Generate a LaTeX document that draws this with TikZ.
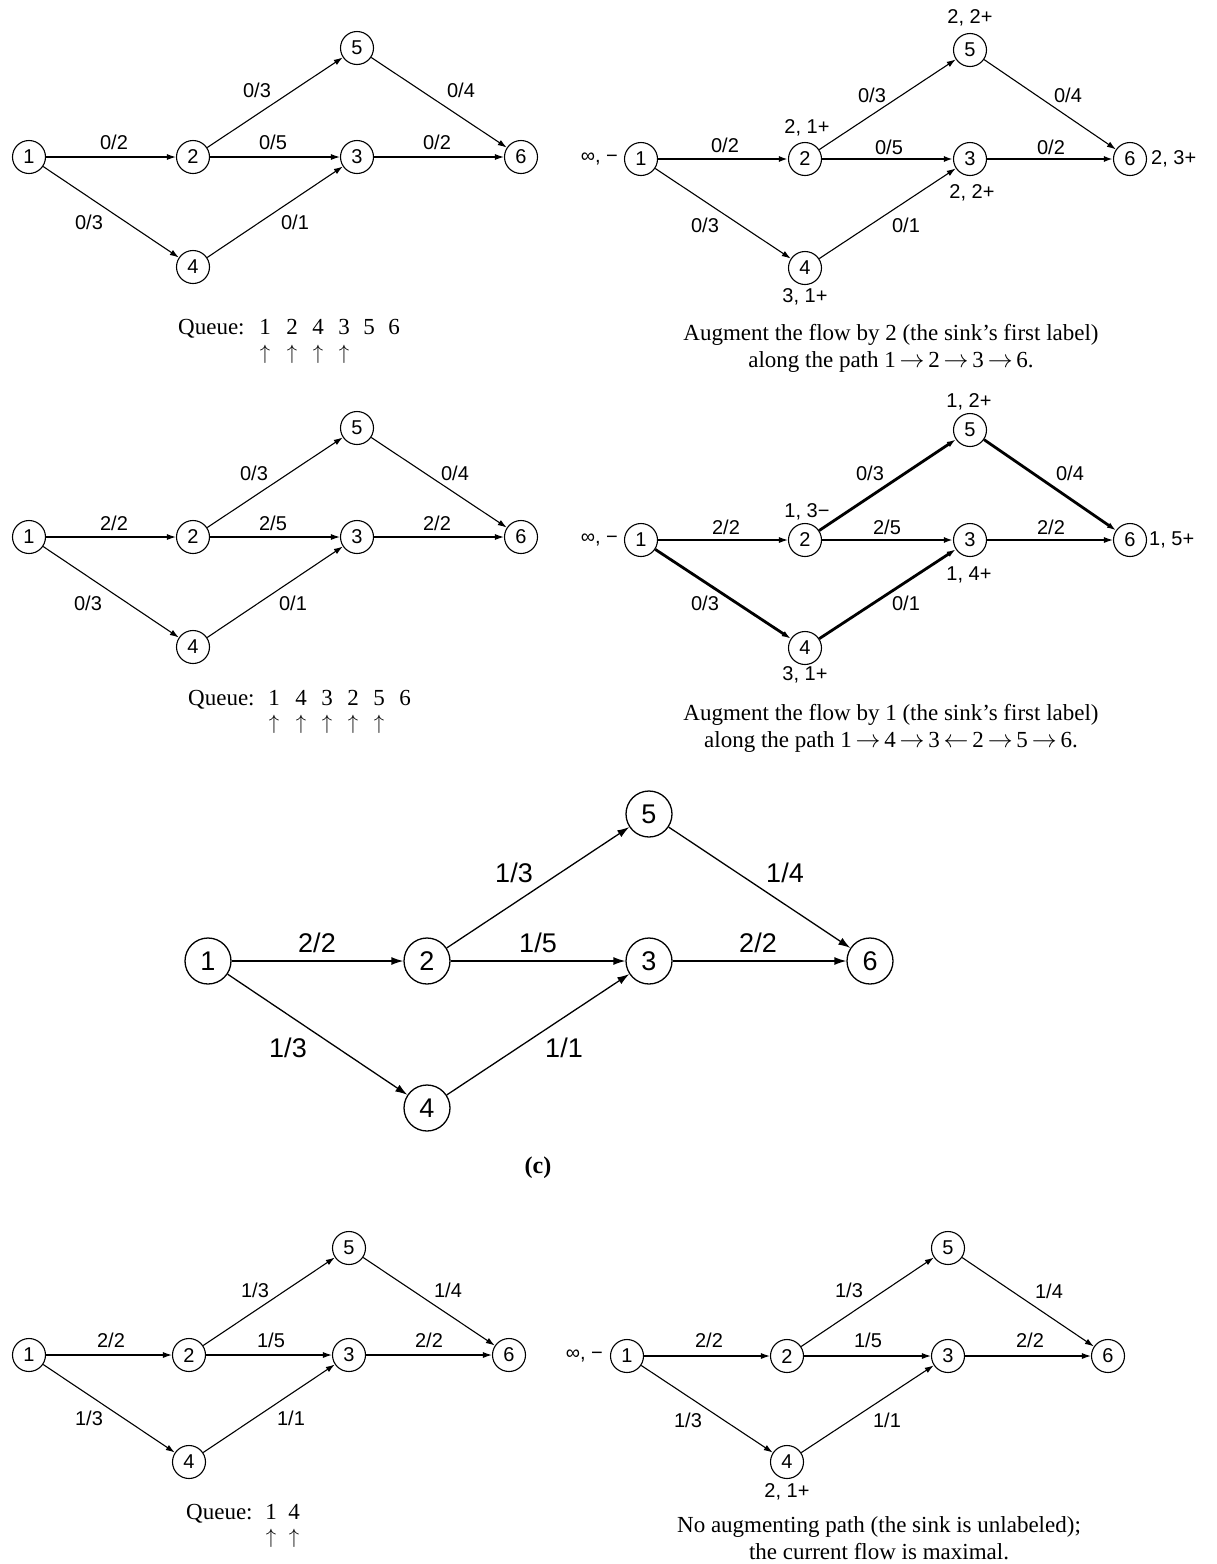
\documentclass[tikz,border=0pt]{standalone}
\usepackage{fontspec}
\setmainfont{Liberation Serif}
\setsansfont{Liberation Sans}
\usetikzlibrary{arrows.meta}
\tikzset{
  nd/.style={circle, draw, line width=1.1pt, minimum size=33pt, inner sep=0pt, font=\sffamily\fontsize{20}{20}\selectfont},
  bignd/.style={circle, draw, line width=1.3pt, minimum size=46pt, inner sep=0pt, font=\sffamily\fontsize{27}{27}\selectfont},
  ar/.style={-{Latex[length=9pt,width=6pt]}, line width=1.1pt},
  bigar/.style={-{Latex[length=12pt,width=8pt]}, line width=1.3pt},
  thk/.style={line width=2.8pt},
  lb/.style={font=\sffamily\fontsize{20}{20}\selectfont, inner sep=0pt},
  biglb/.style={font=\sffamily\fontsize{27}{27}\selectfont, inner sep=0pt},
  capt/.style={font=\fontsize{23}{23}\selectfont, inner sep=0pt},
  qtxt/.style={font=\fontsize{23}{23}\selectfont, inner sep=0pt, anchor=base},
  qarr/.style={font=\fontsize{22}{22}\selectfont, inner sep=0pt, anchor=base},
}
\begin{document}
\begin{tikzpicture}[x=1pt,y=-1pt]
\useasboundingbox (0,0) rectangle (1217,1564);

% ---------- Panel A (top left) ----------
\node[nd] (a1) at (29,157) {1};
\node[nd] (a2) at (193,157) {2};
\node[nd] (a3) at (357,157) {3};
\node[nd] (a6) at (521,157) {6};
\node[nd] (a5) at (357,48) {5};
\node[nd] (a4) at (193,267) {4};
\draw[ar] (a1) -- (a2);
\draw[ar] (a2) -- (a3);
\draw[ar] (a3) -- (a6);
\draw[ar] (a2) -- (a5);
\draw[ar] (a5) -- (a6);
\draw[ar] (a1) -- (a4);
\draw[ar] (a4) -- (a3);
\node[lb] (al12) at (114,142) {0/2};
\node[lb] (al23) at (273,142) {0/5};
\node[lb] (al36) at (437,142) {0/2};
\node[lb] (al25) at (257,90) {0/3};
\node[lb] (al56) at (461,90) {0/4};
\node[lb] (al14) at (89,222) {0/3};
\node[lb] (al43) at (295,222) {0/1};
\node[qtxt, anchor=base west] (aq) at (178,334) {Queue:};
\node[qtxt] (aq1) at (265,334) {1};
\node[qtxt] (aq2) at (292,334) {2};
\node[qtxt] (aq3) at (318,334) {4};
\node[qtxt] (aq4) at (344,334) {3};
\node[qtxt] (aq5) at (369,334) {5};
\node[qtxt] (aq6) at (394,334) {6};
\node[qarr] (aa1) at (265,359) {$\uparrow$};
\node[qarr] (aa2) at (292,359) {$\uparrow$};
\node[qarr] (aa3) at (318,359) {$\uparrow$};
\node[qarr] (aa4) at (344,359) {$\uparrow$};

% ---------- Panel B (top right) ----------
\node[nd] (b1) at (641,159) {1};
\node[nd] (b2) at (805,159) {2};
\node[nd] (b3) at (970,159) {3};
\node[nd] (b6) at (1130,159) {6};
\node[nd] (b5) at (970,50) {5};
\node[nd] (b4) at (805,268) {4};
\draw[ar,thk] (b1) -- (b2);
\draw[ar,thk] (b2) -- (b3);
\draw[ar,thk] (b3) -- (b6);
\draw[ar] (b2) -- (b5);
\draw[ar] (b5) -- (b6);
\draw[ar] (b1) -- (b4);
\draw[ar] (b4) -- (b3);
\node[lb, anchor=east] (bs) at (618,159) {∞, −};
\node[lb] (bl2) at (807,128) {2, 1+};
\node[lb] (bl5) at (970,18) {2, 2+};
\node[lb, anchor=west] (bl6) at (1151,159) {2, 3+};
\node[lb] (bl3) at (972,193) {2, 2+};
\node[lb] (bl4) at (805,297) {3, 1+};
\node[lb] (bl12) at (725,145) {0/2};
\node[lb] (bl23) at (889,147) {0/5};
\node[lb] (bl36) at (1051,147) {0/2};
\node[lb] (bl25) at (872,95) {0/3};
\node[lb] (bl56) at (1068,95) {0/4};
\node[lb] (bl14) at (705,225) {0/3};
\node[lb] (bl43) at (906,225) {0/1};
\node[capt] (bc1) at (891,335) {Augment the flow by 2 (the sink’s first label)};
\node[capt] (bc2) at (891,362) {along the path 1\,$\rightarrow$\,2\,$\rightarrow$\,3\,$\rightarrow$\,6.};

% ---------- Panel C (middle left) ----------
\node[nd] (c1) at (29,537) {1};
\node[nd] (c2) at (193,537) {2};
\node[nd] (c3) at (357,537) {3};
\node[nd] (c6) at (521,537) {6};
\node[nd] (c5) at (357,428) {5};
\node[nd] (c4) at (193,647) {4};
\draw[ar] (c1) -- (c2);
\draw[ar] (c2) -- (c3);
\draw[ar] (c3) -- (c6);
\draw[ar] (c2) -- (c5);
\draw[ar] (c5) -- (c6);
\draw[ar] (c1) -- (c4);
\draw[ar] (c4) -- (c3);
\node[lb] (cl12) at (114,523) {2/2};
\node[lb] (cl23) at (273,523) {2/5};
\node[lb] (cl36) at (437,523) {2/2};
\node[lb] (cl25) at (254,473) {0/3};
\node[lb] (cl56) at (455,473) {0/4};
\node[lb] (cl14) at (88,603) {0/3};
\node[lb] (cl43) at (293,603) {0/1};
\node[qtxt, anchor=base west] (cq) at (188,705) {Queue:};
\node[qtxt] (cq1) at (274,705) {1};
\node[qtxt] (cq2) at (301,705) {4};
\node[qtxt] (cq3) at (327,705) {3};
\node[qtxt] (cq4) at (353,705) {2};
\node[qtxt] (cq5) at (379,705) {5};
\node[qtxt] (cq6) at (405,705) {6};
\node[qarr] (ca1) at (274,729) {$\uparrow$};
\node[qarr] (ca2) at (301,729) {$\uparrow$};
\node[qarr] (ca3) at (327,729) {$\uparrow$};
\node[qarr] (ca4) at (353,729) {$\uparrow$};
\node[qarr] (ca5) at (379,729) {$\uparrow$};

% ---------- Panel D (middle right) ----------
\node[nd] (d1) at (641,540) {1};
\node[nd] (d2) at (805,540) {2};
\node[nd] (d3) at (970,540) {3};
\node[nd] (d6) at (1130,540) {6};
\node[nd] (d5) at (970,430) {5};
\node[nd] (d4) at (805,648) {4};
\draw[ar] (d1) -- (d2);
\draw[ar,thk] (d2) -- (d3);
\draw[ar] (d3) -- (d6);
\draw[ar,thk] (d2) -- (d5);
\draw[ar,thk] (d5) -- (d6);
\draw[ar,thk] (d1) -- (d4);
\draw[ar,thk] (d4) -- (d3);
\node[lb, anchor=east] (ds) at (618,540) {∞, −};
\node[lb] (dl2) at (807,512) {1, 3−};
\node[lb] (dl5) at (969,402) {1, 2+};
\node[lb, anchor=west] (dl6) at (1149,540) {1, 5+};
\node[lb] (dl3) at (969,575) {1, 4+};
\node[lb] (dl4) at (805,675) {3, 1+};
\node[lb] (dl12) at (726,527) {2/2};
\node[lb] (dl23) at (887,527) {2/5};
\node[lb] (dl36) at (1051,527) {2/2};
\node[lb] (dl25) at (870,473) {0/3};
\node[lb] (dl56) at (1070,473) {0/4};
\node[lb] (dl14) at (705,603) {0/3};
\node[lb] (dl43) at (906,603) {0/1};
\node[capt] (dc1) at (891,715) {Augment the flow by 1 (the sink’s first label)};
\node[capt] (dc2) at (891,742) {along the path 1\,$\rightarrow$\,4\,$\rightarrow$\,3\,$\leftarrow$\,2\,$\rightarrow$\,5\,$\rightarrow$\,6.};

% ---------- Panel E (c) ----------
\node[bignd] (e1) at (208,961) {1};
\node[bignd] (e2) at (427,961) {2};
\node[bignd] (e3) at (649,961) {3};
\node[bignd] (e6) at (870,961) {6};
\node[bignd] (e5) at (649,814) {5};
\node[bignd] (e4) at (427,1108) {4};
\draw[bigar] (e1) -- (e2);
\draw[bigar] (e2) -- (e3);
\draw[bigar] (e3) -- (e6);
\draw[bigar] (e2) -- (e5);
\draw[bigar] (e5) -- (e6);
\draw[bigar] (e1) -- (e4);
\draw[bigar] (e4) -- (e3);
\node[biglb] (el12) at (317,943) {2/2};
\node[biglb] (el23) at (538,943) {1/5};
\node[biglb] (el36) at (758,943) {2/2};
\node[biglb] (el25) at (514,873) {1/3};
\node[biglb] (el56) at (785,873) {1/4};
\node[biglb] (el14) at (288,1048) {1/3};
\node[biglb] (el43) at (564,1048) {1/1};
\node[capt, font=\bfseries\fontsize{24}{24}\selectfont] (ec) at (538,1168) {(c)};

% ---------- Panel F (bottom left) ----------
\node[nd] (f1) at (29,1355) {1};
\node[nd] (f2) at (189,1355) {2};
\node[nd] (f3) at (349,1355) {3};
\node[nd] (f6) at (509,1355) {6};
\node[nd] (f5) at (349,1248) {5};
\node[nd] (f4) at (189,1462) {4};
\draw[ar] (f1) -- (f2);
\draw[ar] (f2) -- (f3);
\draw[ar] (f3) -- (f6);
\draw[ar] (f2) -- (f5);
\draw[ar] (f5) -- (f6);
\draw[ar] (f1) -- (f4);
\draw[ar] (f4) -- (f3);
\node[lb] (fl12) at (111,1340) {2/2};
\node[lb] (fl23) at (271,1340) {1/5};
\node[lb] (fl36) at (429,1340) {2/2};
\node[lb] (fl25) at (255,1290) {1/3};
\node[lb] (fl56) at (448,1290) {1/4};
\node[lb] (fl14) at (89,1418) {1/3};
\node[lb] (fl43) at (291,1418) {1/1};
\node[qtxt, anchor=base west] (fq) at (186,1519) {Queue:};
\node[qtxt] (fq1) at (271,1519) {1};
\node[qtxt] (fq2) at (294,1519) {4};
\node[qarr] (fa1) at (271,1543) {$\uparrow$};
\node[qarr] (fa2) at (294,1543) {$\uparrow$};

% ---------- Panel G (bottom right) ----------
\node[nd] (g1) at (627,1356) {1};
\node[nd] (g2) at (787,1356) {2};
\node[nd] (g3) at (948,1356) {3};
\node[nd] (g6) at (1108,1356) {6};
\node[nd] (g5) at (948,1248) {5};
\node[nd] (g4) at (787,1462) {4};
\draw[ar] (g1) -- (g2);
\draw[ar] (g2) -- (g3);
\draw[ar] (g3) -- (g6);
\draw[ar] (g2) -- (g5);
\draw[ar] (g5) -- (g6);
\draw[ar] (g1) -- (g4);
\draw[ar] (g4) -- (g3);
\node[lb, anchor=east] (gs) at (603,1356) {∞, −};
\node[lb] (gl4) at (787,1492) {2, 1+};
\node[lb] (gl12) at (709,1340) {2/2};
\node[lb] (gl23) at (868,1340) {1/5};
\node[lb] (gl36) at (1030,1340) {2/2};
\node[lb] (gl25) at (849,1290) {1/3};
\node[lb] (gl56) at (1049,1291) {1/4};
\node[lb] (gl14) at (688,1420) {1/3};
\node[lb] (gl43) at (887,1420) {1/1};
\node[capt] (gc1) at (879,1527) {No augmenting path (the sink is unlabeled);};
\node[capt] (gc2) at (879,1552) {the current flow is maximal.};
\end{tikzpicture}
\end{document}
